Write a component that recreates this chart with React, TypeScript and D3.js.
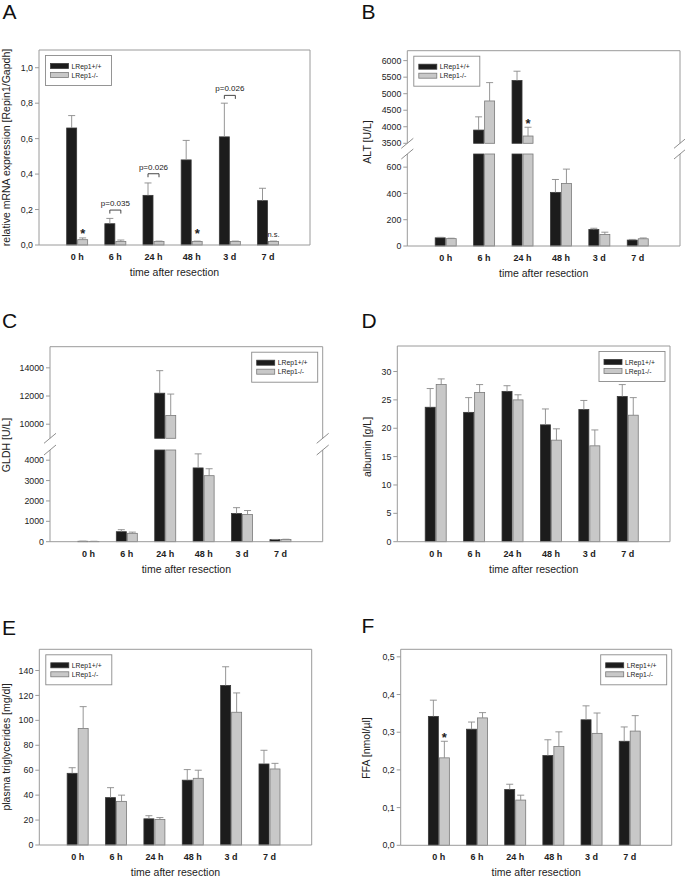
import React from "react";
import * as d3 from "d3";

const categories = ["0 h", "6 h", "24 h", "48 h", "3 d", "7 d"];
const seriesNames = ["LRep1+/+", "LRep1-/-"];

// A - relative mRNA expression
const mrnaWt = [0.66, 0.12, 0.28, 0.48, 0.61, 0.25];
const mrnaWtErr = [0.07, 0.03, 0.07, 0.11, 0.19, 0.07];
const mrnaKo = [0.03, 0.02, 0.02, 0.02, 0.02, 0.02];
const mrnaKoErr = [0.01, 0.008, 0.002, 0.002, 0.002, 0.002];

// B - ALT
const altWt = [62, 3900, 5400, 408, 125, 45];
const altWtErr = [4, 400, 280, 98, 10, 5];
const altKo = [56, 4780, 3720, 475, 88, 55];
const altKoErr = [3, 555, 265, 110, 17, 6];

// C - GLDH
const gldhWt = [20, 490, 12200, 3620, 1380, 100];
const gldhWtErr = [5, 100, 1600, 690, 290, 10];
const gldhKo = [15, 410, 10620, 3240, 1330, 110];
const gldhKoErr = [5, 60, 1520, 340, 200, 10];

// D - albumin
const albWt = [23.7, 22.8, 26.5, 20.6, 23.3, 25.6];
const albWtErr = [3.3, 2.6, 1.0, 2.8, 1.6, 2.1];
const albKo = [27.7, 26.3, 25.0, 17.9, 16.9, 22.3];
const albKoErr = [1.0, 1.4, 0.9, 2.0, 2.8, 3.1];

// E - plasma triglycerides
const tgWt = [57.5, 38, 21, 52, 128, 65];
const tgWtErr = [4.5, 8, 2.5, 8.5, 15, 11];
const tgKo = [93.5, 35, 20.5, 53.5, 106.5, 61];
const tgKoErr = [17.5, 5, 1.5, 6.5, 15.5, 4.5];

// F - FFA
const ffaWt = [0.342, 0.308, 0.148, 0.238, 0.333, 0.276];
const ffaWtErr = [0.043, 0.019, 0.014, 0.042, 0.037, 0.038];
const ffaKo = [0.232, 0.338, 0.12, 0.262, 0.297, 0.303];
const ffaKoErr = [0.044, 0.014, 0.013, 0.039, 0.054, 0.041];

const FONT = "'Liberation Sans', Arial, sans-serif";
const comma1 = (d: number) => d3.format(".1f")(d).replace(".", ",");
const intFmt = d3.format("d");

type Seg = { domain: [number, number]; range: [number, number]; ticks: number[] };
type Ann = { cat: number; s: number; kind: "star" | "text" | "bracket"; v: number; text?: string };

const panels = [
  {
    letter: "A", lx: 2.5, ly: 19,
    frame: { x0: 39, x1: 310, y0: 50, y1: 245 },
    segs: [{ domain: [0, 1.1], range: [245, 50], ticks: d3.range(0, 1.01, 0.2) }] as Seg[],
    fmt: comma1,
    wt: mrnaWt, wtErr: mrnaWtErr, ko: mrnaKo, koErr: mrnaKoErr,
    yTitle: "relative mRNA expression [Repin1/Gapdh]", tx: 10, ty: 147.5,
    legend: "left",
    anns: [
      { cat: 0, s: 1, kind: "star", v: 0.079 },
      { cat: 1, s: 0, kind: "bracket", v: 0.197, text: "p=0.035" },
      { cat: 2, s: 0, kind: "bracket", v: 0.402, text: "p=0.026" },
      { cat: 3, s: 1, kind: "star", v: 0.077 },
      { cat: 4, s: 0, kind: "bracket", v: 0.844, text: "p=0.026" },
      { cat: 5, s: 1, kind: "text", v: 0.062, text: "n.s." },
    ] as Ann[],
  },
  {
    letter: "B", lx: 361.5, ly: 19,
    frame: { x0: 407.3, x1: 680, y0: 50.7, y1: 246 },
    segs: [
      { domain: [0, 700], range: [246, 154], ticks: [0, 200, 400, 600] },
      { domain: [3500, 6300], range: [143.3, 50.7], ticks: [3500, 4000, 4500, 5000, 5500, 6000] },
    ] as Seg[],
    fmt: intFmt,
    wt: altWt, wtErr: altWtErr, ko: altKo, koErr: altKoErr,
    yTitle: "ALT [U/L]", tx: 371, ty: 142,
    legend: "left",
    anns: [{ cat: 2, s: 1, kind: "star", v: 4185 }] as Ann[],
  },
  {
    letter: "C", lx: 2, ly: 328,
    frame: { x0: 50, x1: 322.7, y0: 346.7, y1: 541.7 },
    segs: [
      { domain: [0, 4500], range: [541.7, 450], ticks: [0, 1000, 2000, 3000, 4000] },
      { domain: [9000, 15500], range: [438.3, 346.7], ticks: [10000, 12000, 14000] },
    ] as Seg[],
    fmt: intFmt,
    wt: gldhWt, wtErr: gldhWtErr, ko: gldhKo, koErr: gldhKoErr,
    yTitle: "GLDH [U/L]", tx: 10, ty: 445,
    legend: "right",
    anns: [] as Ann[],
  },
  {
    letter: "D", lx: 361.5, ly: 328,
    frame: { x0: 397.3, x1: 670, y0: 346, y1: 541.7 },
    segs: [{ domain: [0, 34.5], range: [541.7, 346], ticks: d3.range(0, 31, 5) }] as Seg[],
    fmt: intFmt,
    wt: albWt, wtErr: albWtErr, ko: albKo, koErr: albKoErr,
    yTitle: "albumin [g/L]", tx: 371, ty: 447,
    legend: "right",
    anns: [] as Ann[],
  },
  {
    letter: "E", lx: 2, ly: 635,
    frame: { x0: 39.3, x1: 311.7, y0: 649.3, y1: 845 },
    segs: [{ domain: [0, 157], range: [845, 649.3], ticks: d3.range(0, 141, 20) }] as Seg[],
    fmt: intFmt,
    wt: tgWt, wtErr: tgWtErr, ko: tgKo, koErr: tgKoErr,
    yTitle: "plasma triglycerides [mg/dl]", tx: 10, ty: 747,
    legend: "left",
    anns: [] as Ann[],
  },
  {
    letter: "F", lx: 361.5, ly: 633,
    frame: { x0: 400.7, x1: 671.7, y0: 649.3, y1: 845.3 },
    segs: [{ domain: [0, 0.52], range: [845.3, 649.3], ticks: d3.range(0, 0.51, 0.1) }] as Seg[],
    fmt: comma1,
    wt: ffaWt, wtErr: ffaWtErr, ko: ffaKo, koErr: ffaKoErr,
    yTitle: "FFA [nmol/\u00b5l]", tx: 370, ty: 748,
    legend: "right",
    anns: [{ cat: 0, s: 1, kind: "star", v: 0.293 }] as Ann[],
  },
];

const AXIS = "#9a9a9a";
const TEXT = "#222";

function Panel({ p }: { p: any }) {
  const { x0, x1, y0, y1 } = p.frame;
  const x = d3.scaleLinear().domain([-1, 6.1]).range([x0, x1]);
  const segs = (p.segs as Seg[]).map((s) => ({ ...s, sc: d3.scaleLinear().domain(s.domain).range(s.range) }));
  const findSeg = (v: number) => segs.find((s) => v >= s.domain[0] && v <= s.domain[1]) || segs[segs.length - 1];
  const bw = 10;
  const gap = 0.5;
  const series = [
    { vals: p.wt, errs: p.wtErr, fill: "#1c1c1c", stroke: "#3a3a3a", off: -1 },
    { vals: p.ko, errs: p.koErr, fill: "#c8c8c8", stroke: "#7a7a7a", off: 1 },
  ];
  const barCenter = (i: number, s: number) => x(i) + series[s].off * (gap + bw / 2);

  const lx = p.legend === "left" ? x0 + 6.5 : x1 - 71;
  const ly = y0 + 5.5;

  return (
    <g fontFamily={FONT}>
      <text x={p.lx} y={p.ly} fontSize={21} fill="#111">{p.letter}</text>

      {/* bars */}
      {series.map((sr, si) =>
        (sr.vals as number[]).map((v, i) =>
          segs.filter((s) => v > s.domain[0]).map((s, k) => {
            const top = Math.min(v, s.domain[1]);
            const yt = s.sc(top);
            const yb = s.sc(s.domain[0]);
            return (
              <rect key={`b${si}-${i}-${k}`} x={barCenter(i, si) - bw / 2} y={yt} width={bw} height={yb - yt}
                fill={sr.fill} stroke={sr.stroke} strokeWidth={0.8} />
            );
          })
        )
      )}

      {/* error bars */}
      {series.map((sr, si) =>
        (sr.vals as number[]).map((v, i) => {
          const s = findSeg(v);
          const e = Math.min(v + sr.errs[i], s.domain[1]);
          const cx = barCenter(i, si);
          return (
            <g key={`e${si}-${i}`} stroke="#8a8a8a" strokeWidth={0.9}>
              <line x1={cx} x2={cx} y1={s.sc(v)} y2={s.sc(e)} />
              <line x1={cx - 3.5} x2={cx + 3.5} y1={s.sc(e)} y2={s.sc(e)} />
            </g>
          );
        })
      )}

      {/* frame */}
      <line x1={x0} x2={x1} y1={y0} y2={y0} stroke={AXIS} />
      <line x1={x0} x2={x1} y1={y1} y2={y1} stroke={AXIS} />
      {segs.map((s, k) => (
        <g key={`f${k}`} stroke={AXIS}>
          <line x1={x0} x2={x0} y1={s.range[0]} y2={s.range[1]} />
          <line x1={x1} x2={x1} y1={s.range[0]} y2={s.range[1]} />
        </g>
      ))}
      {segs.slice(1).map((s, k) => {
        const ys = [segs[k].range[1], s.range[0]];
        return (
          <g key={`br${k}`} stroke="#808080" strokeWidth={0.9}>
            {[x0, x1].map((xx) =>
              ys.map((yy, j) => <line key={`${xx}-${j}`} x1={xx - 6} y1={yy + 5} x2={xx + 6} y2={yy - 5} />)
            )}
          </g>
        );
      })}

      {/* y ticks */}
      {segs.map((s, k) =>
        s.ticks.map((t) => (
          <g key={`t${k}-${t}`}>
            <line x1={x0 - 4} x2={x0} y1={s.sc(t)} y2={s.sc(t)} stroke={AXIS} />
            <text x={x0 - 6} y={s.sc(t)} dy="0.35em" textAnchor="end" fontSize={8.8} fill={TEXT}>{p.fmt(t)}</text>
          </g>
        ))
      )}

      {/* category labels */}
      {categories.map((c, i) => (
        <text key={c} x={x(i)} y={y1 + 15} textAnchor="middle" fontSize={9} fontWeight="bold" fill={TEXT}>{c}</text>
      ))}
      <text x={(x0 + x1) / 2} y={y1 + 31} textAnchor="middle" fontSize={10.5} fill={TEXT}>time after resection</text>
      <text transform={`translate(${p.tx},${p.ty}) rotate(-90)`} textAnchor="middle" fontSize={10.5} fill={TEXT}>{p.yTitle}</text>

      {/* legend */}
      <rect x={lx} y={ly} width={66} height={30} fill="#fff" stroke="#8a8a8a" strokeWidth={0.9} />
      {series.map((sr, si) => (
        <g key={`l${si}`}>
          <rect x={lx + 5} y={ly + 8 + si * 9} width={18} height={5} fill={sr.fill} stroke={sr.stroke} strokeWidth={0.8} />
          <text x={lx + 26} y={ly + 13 + si * 9} fontSize={6.8} fill={TEXT}>{seriesNames[si]}</text>
        </g>
      ))}

      {/* annotations */}
      {(p.anns as Ann[]).map((a, k) => {
        const s = findSeg(a.v);
        const yy = s.sc(a.v);
        if (a.kind === "star") {
          return <text key={`a${k}`} x={barCenter(a.cat, a.s)} y={yy + 7} textAnchor="middle" fontSize={13} fontWeight="bold" fill={TEXT}>*</text>;
        }
        if (a.kind === "text") {
          return <text key={`a${k}`} x={barCenter(a.cat, a.s)} y={yy} dy="0.35em" textAnchor="middle" fontSize={7.5} fill={TEXT}>{a.text}</text>;
        }
        const xa = barCenter(a.cat, 0);
        const xb = barCenter(a.cat, 1);
        return (
          <g key={`a${k}`}>
            <path d={`M${xa},${yy + 3.5}V${yy}H${xb}V${yy + 3.5}`} fill="none" stroke="#333" strokeWidth={0.9} />
            <text x={(xa + xb) / 2} y={yy - 4} textAnchor="middle" fontSize={8} fill={TEXT}>{a.text}</text>
          </g>
        );
      })}
    </g>
  );
}

export default function App() {
  return (
    <svg width={685} height={877} style={{ position: "absolute", left: 0, top: 0, background: "#fff" }}>
      <rect width={685} height={877} fill="#fff" />
      {panels.map((p) => (
        <Panel key={p.letter} p={p} />
      ))}
    </svg>
  );
}
